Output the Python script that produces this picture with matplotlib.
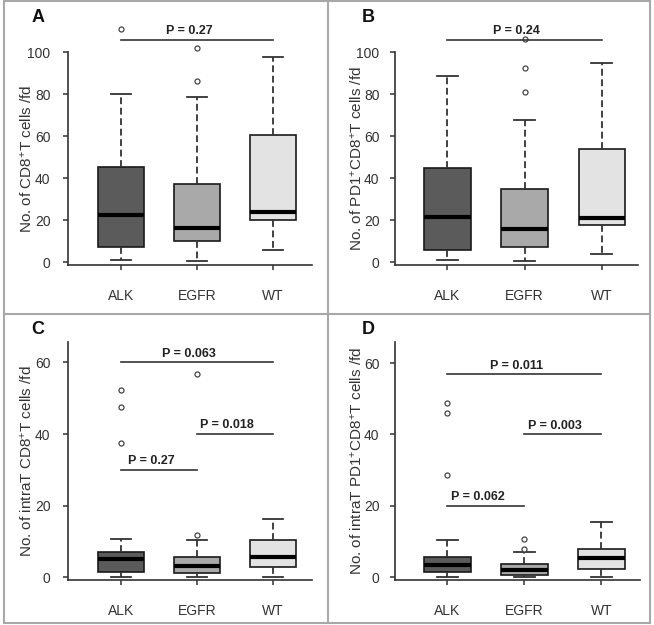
import matplotlib
matplotlib.use("Agg")
import matplotlib.pyplot as plt
from matplotlib.lines import Line2D

plt.rcParams['font.family'] = ['Liberation Sans', 'DejaVu Sans']
plt.rcParams['mathtext.fontset'] = 'custom'
plt.rcParams['mathtext.rm'] = 'Liberation Sans'
plt.rcParams['mathtext.it'] = 'Liberation Sans:italic'
plt.rcParams['mathtext.bf'] = 'Liberation Sans:bold'

groups = ["ALK", "EGFR", "WT"]
box_colors = ["#5b5b5b", "#a9a9a9", "#e3e3e3"]

# panel A: CD8+ T cells
a_med = [22.5, 16.0, 23.8]
a_q1 = [7.1, 10.0, 20.2]
a_q3 = [45.2, 37.1, 60.5]
a_lo = [1.0, 0.3, 5.6]
a_hi = [80.0, 78.6, 97.5]
a_out = [[111.0], [102.0, 86.0], []]
a_p = [(1, 3, 105.9, "P = 0.27")]

# panel B: PD1+CD8+ T cells
b_med = [21.4, 15.7, 20.8]
b_q1 = [5.6, 7.3, 17.8]
b_q3 = [44.6, 34.8, 54.0]
b_lo = [0.8, 0.3, 3.8]
b_hi = [88.7, 67.8, 94.8]
b_out = [[], [106.2, 92.2, 81.0], []]
b_p = [(1, 3, 105.6, "P = 0.24")]

# panel C: intratumoral CD8+ T cells
c_med = [5.1, 3.1, 5.8]
c_q1 = [1.6, 1.1, 2.8]
c_q3 = [7.0, 5.6, 10.3]
c_lo = [0.1, 0.1, 0.1]
c_hi = [10.8, 10.4, 16.2]
c_out = [[52.3, 47.5, 37.6], [56.8, 11.8], []]
c_p = [(1, 3, 60.0, "P = 0.063"), (2, 3, 40.0, "P = 0.018"),
       (1, 2, 30.0, "P = 0.27")]

# panel D: intratumoral PD1+CD8+ T cells
d_med = [3.4, 2.0, 5.3]
d_q1 = [1.4, 0.75, 2.4]
d_q3 = [5.7, 3.6, 8.0]
d_lo = [0.1, 0.1, 0.1]
d_hi = [10.4, 7.0, 15.6]
d_out = [[48.9, 45.9, 28.6], [10.8, 8.0], []]
d_p = [(1, 3, 56.8, "P = 0.011"), (2, 3, 40.0, "P = 0.003"),
       (1, 2, 20.1, "P = 0.062")]

W, H = 654, 625


def px_rect(left, right, top, bottom):
    # pixel box -> figure fraction
    return [left / W, 1 - bottom / H, (right - left) / W, (bottom - top) / H]


def draw_panel(ax, med, q1, q3, lo, hi, out, pvals, ylabel, yticks,
               ylim, xlim, label_x, ypad):
    stats = []
    for i in range(len(groups)):
        stats.append({"med": med[i], "q1": q1[i], "q3": q3[i],
                      "whislo": lo[i], "whishi": hi[i],
                      "fliers": out[i], "label": groups[i]})
    bp = ax.bxp(stats, positions=[1, 2, 3], widths=0.6, capwidths=0.27,
                patch_artist=True,
                boxprops=dict(edgecolor="#1a1a1a", linewidth=1.2),
                medianprops=dict(color="black", linewidth=3.0),
                whiskerprops=dict(color="#333333", linewidth=1.3,
                                  linestyle=(0, (3.8, 2.0))),
                capprops=dict(color="#333333", linewidth=1.3),
                flierprops=dict(marker="o", markersize=3.6,
                                markerfacecolor="white",
                                markeredgecolor="#444444",
                                markeredgewidth=0.9))
    for patch, col in zip(bp["boxes"], box_colors):
        patch.set_facecolor(col)
    for fl in bp["fliers"]:
        fl.set_clip_on(False)

    # significance bars
    for i, j, y, txt in pvals:
        ax.plot([i, j], [y, y], color="#333333", lw=1.2, clip_on=False)
        ax.annotate(txt, xy=((i + j) / 2, y), xytext=(-6, 2),
                    textcoords="offset points", ha="center", va="bottom",
                    fontsize=9, fontweight="bold", color="#222222",
                    annotation_clip=False)

    ax.set_xlim(*xlim)
    ax.set_ylim(*ylim)
    ax.set_yticks(yticks)
    ax.set_xticks([1, 2, 3])
    ax.set_xticklabels(groups)
    for s in ["top", "right"]:
        ax.spines[s].set_visible(False)
    for s in ["left", "bottom"]:
        ax.spines[s].set_linewidth(1.2)
        ax.spines[s].set_color("#333333")
    ax.tick_params(axis="y", direction="out", length=3.6, width=1.1,
                   pad=ypad, labelsize=10, colors="#333333")
    ax.tick_params(axis="x", direction="out", length=3.6, width=1.1,
                   pad=14, labelsize=10, colors="#333333")
    ax.set_ylabel(ylabel, fontsize=11, color="#333333")
    ax.yaxis.set_label_coords(label_x, 0.5)


fig = plt.figure(figsize=(W / 100, H / 100), dpi=100)

ax_a = fig.add_axes(px_rect(68, 312, 52, 265))
ax_b = fig.add_axes(px_rect(395, 638, 52, 265))
ax_c = fig.add_axes(px_rect(68, 312, 341.7, 580))
ax_d = fig.add_axes(px_rect(395, 640, 342.3, 580))

draw_panel(ax_a, a_med, a_q1, a_q3, a_lo, a_hi, a_out, a_p,
           "No. of CD8$^{+}$T cells /fd", [0, 20, 40, 60, 80, 100],
           (-1.4, 100), (0.30, 3.51), -0.135, 9)
draw_panel(ax_b, b_med, b_q1, b_q3, b_lo, b_hi, b_out, b_p,
           "No. of PD1$^{+}$CD8$^{+}$T cells /fd", [0, 20, 40, 60, 80, 100],
           (-1.4, 100), (0.32, 3.47), -0.125, 7.5)
draw_panel(ax_c, c_med, c_q1, c_q3, c_lo, c_hi, c_out, c_p,
           "No. of intraT CD8$^{+}$T cells /fd", [0, 20, 40, 60],
           (-0.75, 65.8), (0.30, 3.51), -0.135, 9)
draw_panel(ax_d, d_med, d_q1, d_q3, d_lo, d_hi, d_out, d_p,
           "No. of intraT PD1$^{+}$CD8$^{+}$T cells /fd", [0, 20, 40, 60],
           (-0.75, 65.8), (0.32, 3.50), -0.125, 7.5)

# panel letters
for letter, x, y in [("A", 38, 18), ("B", 368, 18), ("C", 38, 330),
                     ("D", 368, 330)]:
    fig.text(x / W, 1 - y / H, letter, fontsize=13, fontweight="bold",
             ha="center", va="center", color="#111111")

# grey frame around the four panels
frame = "#a8a8a8"
for (x0, y0, x1, y1) in [(4, 1, 650, 1), (4, 623, 650, 623),
                         (4, 1, 4, 623), (650, 1, 650, 623),
                         (4, 314, 650, 314), (328, 1, 328, 623)]:
    fig.add_artist(Line2D([x0 / W, x1 / W], [1 - y0 / H, 1 - y1 / H],
                          color=frame, lw=1.5, transform=fig.transFigure))

fig.savefig("out.png", dpi=100)
